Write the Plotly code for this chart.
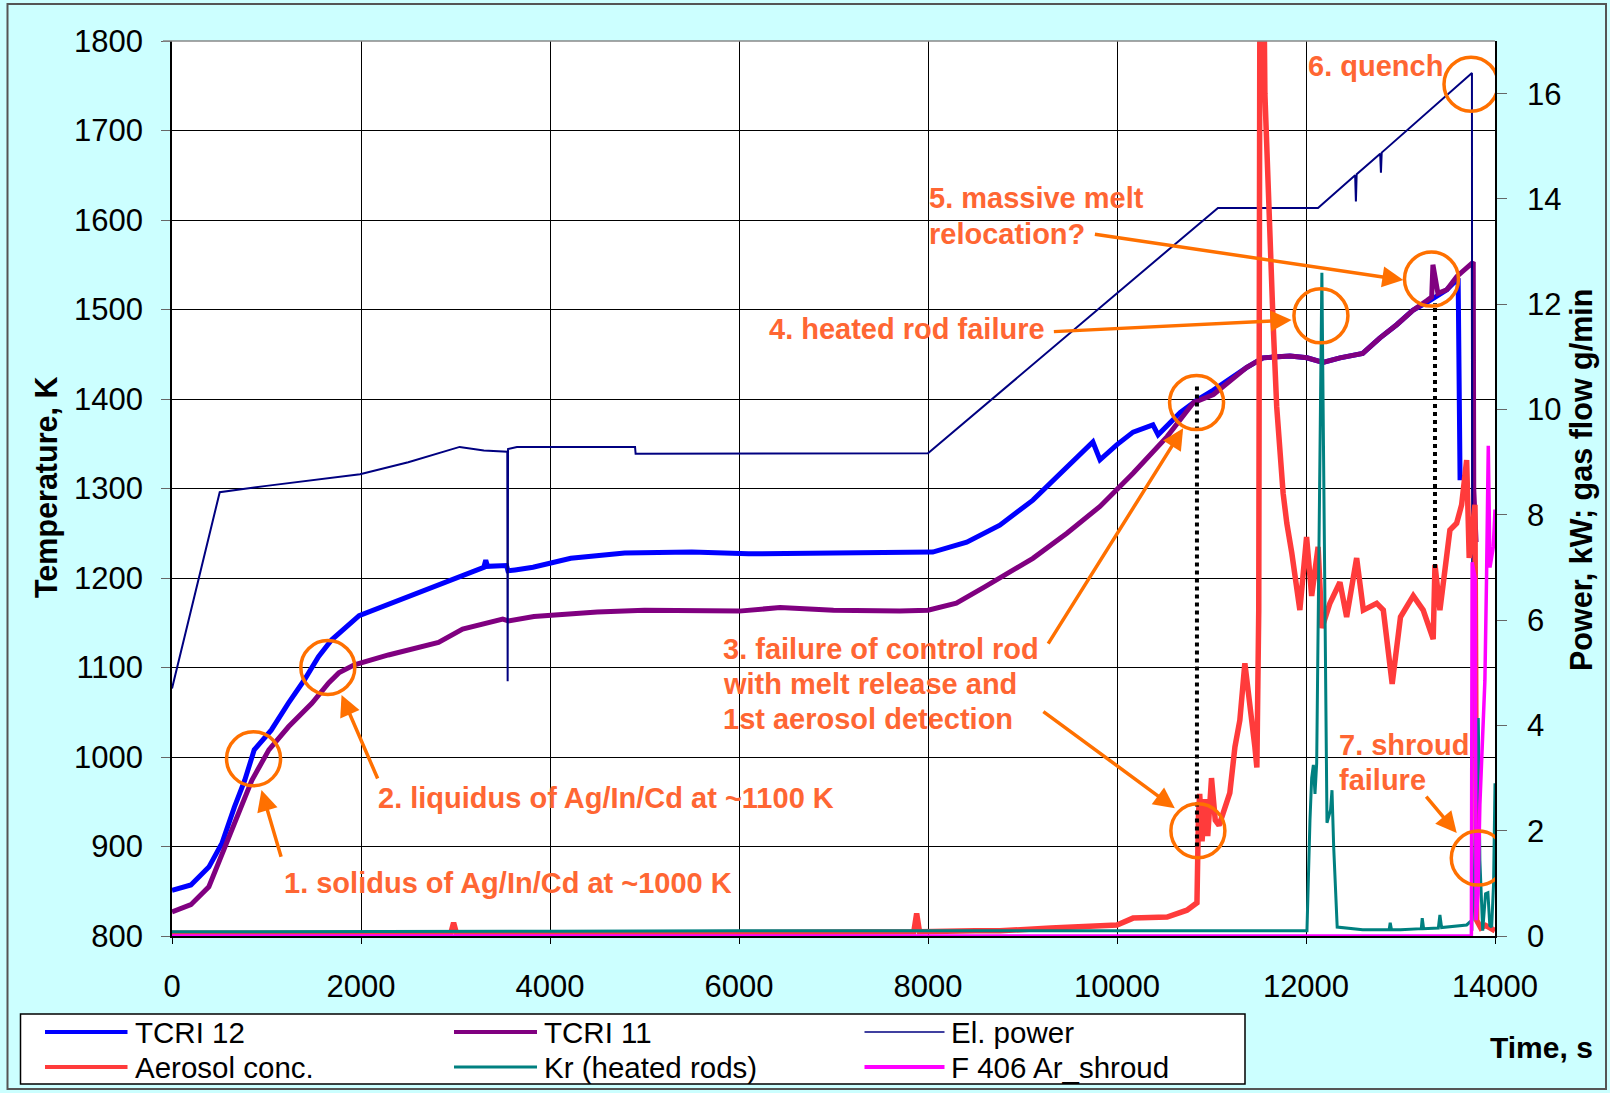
import plotly.graph_objects as go

# ---------------------------------------------------------------- data
# TCRI 12 thermocouple (K)
tcri12_t = [0, 200, 390, 530, 660, 770, 870, 1050, 1230, 1400, 1550, 1690, 1980, 2520, 3060,
            3300, 3320, 3340, 3540, 3555, 3630, 3820, 4220, 4790, 5500, 6100, 7000, 7950, 8050,
            8410, 8760, 9110, 9470, 9745, 9820, 10000, 10170, 10380, 10435, 10670, 10850, 11020,
            11370, 11545, 11830, 12010, 12180, 12360, 12600, 12780, 12960, 13130, 13280, 13490,
            13610, 13630, 13665]
tcri12_T = [851, 857, 877, 904, 944, 974, 1008, 1030, 1060, 1086, 1112, 1131, 1158, 1180, 1203,
            1212, 1220, 1213, 1214, 1208, 1209, 1212, 1222, 1228, 1229, 1227, 1228, 1230, 1229,
            1240, 1259, 1287, 1324, 1352, 1332, 1349, 1363, 1371, 1360, 1385, 1399, 1410,
            1435, 1446, 1448, 1446, 1441, 1446, 1451, 1468, 1483, 1499, 1508, 1522,
            1535, 1312, 1312]

# TCRI 11 thermocouple (K)
tcri11_t = [0, 200, 390, 560, 710, 845, 1025, 1235, 1480, 1660, 1765, 1930, 2290, 2820, 3075,
            3500, 3560, 3830, 4500, 5000, 6000, 6435, 7000, 7700, 8000, 8300, 8600, 8850, 9110,
            9470, 9820, 10170, 10530, 10810, 11020, 11370, 11545, 11830, 12010, 12180, 12360,
            12600, 12780, 12960, 13130, 13280, 13330, 13343, 13396, 13490, 13597, 13770, 13775,
            13800]
tcri11_T = [827, 835, 855, 899, 941, 974, 1008, 1034, 1060, 1083, 1094, 1103, 1114, 1128, 1143,
            1154, 1152, 1157, 1162, 1164, 1163, 1167, 1164, 1163, 1164, 1172, 1190, 1205, 1222,
            1250, 1280, 1317, 1358, 1396, 1405, 1435, 1446, 1448, 1446, 1441, 1446,
            1451, 1468, 1483, 1499, 1510, 1514, 1550, 1518, 1522, 1537, 1553, 1300,
            1240]

# electrical power (kW)
power_t = [0, 505, 1000, 1500, 1990, 2500, 3044, 3300, 3548, 3552, 3556, 3650, 4900, 4906, 8000,
           11068, 12127, 12520, 12528, 12536, 12785, 12793, 12801, 13756, 13760]
power_kw = [4.7, 8.43, 8.55, 8.66, 8.77, 9.0, 9.29, 9.22, 9.2, 4.84, 9.25, 9.29, 9.29, 9.16, 9.17,
            13.83, 13.83, 14.45, 13.95, 14.47, 14.86, 14.5, 14.88, 16.39, 0.1]

# aerosol concentration (right axis units)
aerosol_t = [0, 1000, 2000, 2950, 2980, 3010, 4000, 5000, 6000, 7000, 7850, 7880, 7910, 8500,
             8760, 9300, 9600, 10000, 10170, 10380, 10530, 10740, 10846, 10862, 10875, 10900,
             10930, 10960, 11000, 11040, 11080, 11124, 11194, 11248, 11300, 11353, 11406, 11459,
             11480, 11500, 11512, 11555, 11565, 11618, 11653, 11690, 11723, 11758, 11797, 11850,
             11935, 12006, 12060, 12128, 12169, 12253, 12359, 12430, 12536, 12607, 12748, 12818,
             12912, 13000, 13135, 13240, 13346, 13365, 13417, 13523, 13594, 13647, 13700, 13727,
             13788, 13806, 13850, 13900, 14000]
aerosol_v = [0.05, 0.05, 0.06, 0.05, 0.25, 0.05, 0.05, 0.06, 0.06, 0.07, 0.08, 0.43, 0.08, 0.1,
             0.1, 0.15, 0.17, 0.21, 0.34, 0.34, 0.36, 0.49, 0.63, 2.3, 2.7, 1.8,
             2.6, 1.9, 3.0, 2.2, 2.1, 2.34, 2.72, 3.59, 4.1, 5.18, 4.48, 3.59,
             3.2, 6.19, 18, 18, 16.0, 13.0, 11.6, 10.05, 9.1, 8.41, 7.84, 7.27,
             6.19, 7.58, 6.46, 7.39, 5.85, 6.32, 6.72, 6.06, 7.18, 6.19, 6.32, 6.19,
             4.79, 6.06, 6.46, 6.19, 5.64, 7.05, 6.19, 7.71, 7.84, 8.19, 9.04, 7.18,
             8.19, 0.3, 0.15, 0.2, 0.1]

# krypton release from heated rods (g/min)
kr_t = [0, 2000, 4000, 6000, 8000, 10000, 11000, 12010, 12042, 12060, 12078, 12095, 12113, 12150,
        12168, 12185, 12205, 12222, 12260, 12275, 12293, 12310, 12330, 12600, 12880, 12891, 12905,
        13000, 13220, 13230, 13245, 13400, 13417, 13435, 13700, 13756, 13780, 13800, 13823, 13840,
        13870, 13900, 13925, 13945, 13965, 13985, 14000]
kr_v = [0.08, 0.08, 0.09, 0.1, 0.1, 0.1, 0.1, 0.1, 2.2, 3.0, 3.25, 2.7, 3.28, 9.0,
        12.6, 9.3, 5.0, 2.15, 2.4, 2.77, 1.69, 0.87, 0.17, 0.12, 0.12, 0.25, 0.12,
        0.12, 0.14, 0.34, 0.14, 0.15, 0.4, 0.16, 0.21, 0.3, 1.0, 2.5, 4.14, 1.44,
        0.1, 0.8, 0.82, 0.2, 0.17, 1.0, 2.9]

# argon flow through shroud (g/min)
ar_t = [0, 13750, 13758, 13790, 13800, 13820, 13840, 13893, 13911, 13929, 13947, 13982, 14000]
ar_v = [0, 0, 7.1, 6.8, 0.3, 0.8, 2.5, 4.85, 6.86, 9.31, 7.0, 7.39, 8.1]

x_ticks = [0, 2000, 4000, 6000, 8000, 10000, 12000, 14000]
x_tick_text = ["0", "2000", "4000", "6000", "8000", "10000", "12000", "14000"]
temp_ticks = [800, 900, 1000, 1100, 1200, 1300, 1400, 1500, 1600, 1700, 1800]
right_ticks = [0, 2, 4, 6, 8, 10, 12, 14, 16]

# ------------------------------------------------------------ geometry
W, H = 1610, 1093
ML, MR, MT, MB = 172, 115, 41, 157
PW, PH = W - ML - MR, H - MT - MB


def px_x(px):
    return (px - ML) / PW


def px_y(py):
    return (H - MB - py) / PH


FONT = "Liberation Sans, Arial, sans-serif"
ORANGE = "#FF7000"
NOTE = "#FF6633"

series = [
    dict(name="TCRI 12", x=tcri12_t, y=tcri12_T, color="#0000FF", width=5, axis="y", lw=4),
    dict(name="TCRI 11", x=tcri11_t, y=tcri11_T, color="#800080", width=5, axis="y", lw=4),
    dict(name="El. power", x=power_t, y=power_kw, color="#000080", width=2, axis="y2", lw=1.5),
    dict(name="Aerosol conc.", x=aerosol_t, y=aerosol_v, color="#FF3B3B", width=5.5, axis="y2", lw=4),
    dict(name="Kr (heated rods)", x=kr_t, y=kr_v, color="#008080", width=3, axis="y2", lw=3),
    dict(name="F 406 Ar_shroud", x=ar_t, y=ar_v, color="#FF00FF", width=3.5, axis="y2", lw=4),
]

fig = go.Figure()
for s in series:
    fig.add_trace(go.Scatter(x=s["x"], y=s["y"], name=s["name"], mode="lines",
                             yaxis=s["axis"], showlegend=False,
                             line=dict(color=s["color"], width=s["width"])))

axis_font = dict(family=FONT, size=31, color="black")
fig.update_layout(
    width=W, height=H,
    margin=dict(l=ML, r=MR, t=MT, b=MB, pad=0),
    paper_bgcolor="#CCFFFF", plot_bgcolor="white",
    xaxis=dict(range=[0, 14000], tickvals=x_ticks, ticktext=x_tick_text, showgrid=True,
               gridcolor="black", gridwidth=1,
               showline=True, linecolor="black", linewidth=1.5, zeroline=False,
               ticks="outside", ticklen=6, tickcolor="black", tickfont=axis_font,
               ticklabelstandoff=16),
    yaxis=dict(range=[800, 1800], tickvals=temp_ticks, showgrid=True, gridcolor="black",
               gridwidth=1, showline=True, linecolor="black", linewidth=1.5, zeroline=False,
               ticks="outside", ticklen=9, tickcolor="#666", tickfont=axis_font,
               ticklabelstandoff=12),
    yaxis2=dict(range=[0, 17], tickvals=right_ticks, overlaying="y", side="right",
                showgrid=False, showline=True, linecolor="black", linewidth=1.5, zeroline=False,
                ticks="outside", ticklen=10, tickcolor="#666", tickfont=axis_font,
                ticklabelstandoff=14),
    showlegend=False,
)

shapes = []
annotations = []

# chart frame and plot top edge
shapes.append(dict(type="rect", xref="paper", yref="paper", x0=px_x(7.5), x1=px_x(1606),
                   y0=px_y(4), y1=px_y(1089), line=dict(color="#555", width=2), layer="below"))
shapes.append(dict(type="line", xref="paper", yref="paper", x0=px_x(163), x1=1, y0=1, y1=1,
                   line=dict(color="#888", width=1.5)))

# axis titles
annotations.append(dict(text="<b>Temperature, K</b>", xref="paper", yref="paper",
                        x=px_x(46), y=px_y(488), textangle=-90, showarrow=False,
                        xanchor="center", yanchor="middle",
                        font=dict(family=FONT, size=30.5, color="black")))
annotations.append(dict(text="<b>Power, kW; gas flow g/min</b>", xref="paper", yref="paper",
                        x=px_x(1581), y=px_y(480), textangle=-90, showarrow=False,
                        xanchor="center", yanchor="middle",
                        font=dict(family=FONT, size=30.5, color="black")))
annotations.append(dict(text="<b>Time, s</b>", xref="paper", yref="paper",
                        x=px_x(1541), y=px_y(1047), showarrow=False,
                        xanchor="center", yanchor="middle",
                        font=dict(family=FONT, size=30, color="black")))

# event markers: vertical dotted lines (time, bottom, top on right axis)
dotted = [(10846, 1.7, 10.5), (13365, 6.99, 12.02)]
for t, lo, hi in dotted:
    shapes.append(dict(type="line", xref="x", yref="y2", x0=t, x1=t, y0=lo, y1=hi,
                       line=dict(color="black", width=4, dash="dot")))

# event circles (time, value, axis)
circles = [(863, 998, "y"), (1649, 1100, "y"), (10842, 1396, "y"), (10856, 2.0, "y2"),
           (12158, 11.78, "y2"), (13328, 1534, "y"), (13746, 16.18, "y2"), (13823, 1.48, "y2")]
R = 27
for t, v, ax in circles:
    shapes.append(dict(type="circle", xref="x", yref=ax, xsizemode="pixel", ysizemode="pixel",
                       xanchor=t, yanchor=v, x0=-R, x1=R, y0=-R, y1=R,
                       line=dict(color=ORANGE, width=3.5)))

# arrows: (tail time, tail K, head time, head K)
arrows = [(1159, 886.8, 947, 963), (2183, 974.3, 1794, 1069.3),
          (9262, 1125, 10700, 1367.3), (9205, 1052, 10612, 942.7),
          (9316, 1475.2, 11848, 1488.3), (9750, 1584.4, 13030, 1533),
          (13259, 957.5, 13595, 915)]
for tx, ty, hx, hy in arrows:
    annotations.append(dict(text="", x=hx, y=hy, ax=tx, ay=ty, xref="x", yref="y",
                            axref="x", ayref="y", showarrow=True, arrowhead=2, arrowsize=1.2,
                            arrowwidth=3.5, arrowcolor=ORANGE, standoff=0, startstandoff=0))

# event labels: (left px, centre px, text)
labels = [(283, 883, "1. solidus of Ag/In/Cd at ~1000 K"),
          (377, 798, "2. liquidus of Ag/In/Cd at ~1100 K"),
          (722, 649, "3. failure of control rod"),
          (722, 684, "with melt release and"),
          (722, 719, "1st aerosol detection"),
          (768, 329, "4. heated rod failure"),
          (928, 198, "5. massive melt"),
          (928, 234, "relocation?"),
          (1307, 66, "6. quench"),
          (1338, 745, "7. shroud"),
          (1338, 780, "failure")]
for lx, ly, txt in labels:
    annotations.append(dict(text=f"<b>{txt}</b>", xref="paper", yref="paper",
                            x=px_x(lx), y=px_y(ly), xanchor="left", yanchor="middle",
                            showarrow=False, borderpad=0,
                            font=dict(family=FONT, size=29, color=NOTE)))

# legend box drawn as shapes + text
shapes.append(dict(type="rect", xref="paper", yref="paper", x0=px_x(20.5), x1=px_x(1245),
                   y0=px_y(1014), y1=px_y(1084), fillcolor="white",
                   line=dict(color="black", width=1.5)))
col_line = [(45, 127.5), (454, 537), (864.5, 944.5)]
col_text = [133.5, 543, 950]
row_y = [1032, 1067]
for i, s in enumerate(series):
    r, c = divmod(i, 3)
    y = px_y(row_y[r])
    shapes.append(dict(type="line", xref="paper", yref="paper",
                       x0=px_x(col_line[c][0]), x1=px_x(col_line[c][1]), y0=y, y1=y,
                       line=dict(color=s["color"], width=s["lw"])))
    annotations.append(dict(text=s["name"], xref="paper", yref="paper", x=px_x(col_text[c]),
                            y=y, xanchor="left", yanchor="middle", showarrow=False,
                            borderpad=0,
                            font=dict(family=FONT, size=29.5, color="black")))

fig.update_layout(shapes=shapes, annotations=annotations)
fig.write_html("out.html")
